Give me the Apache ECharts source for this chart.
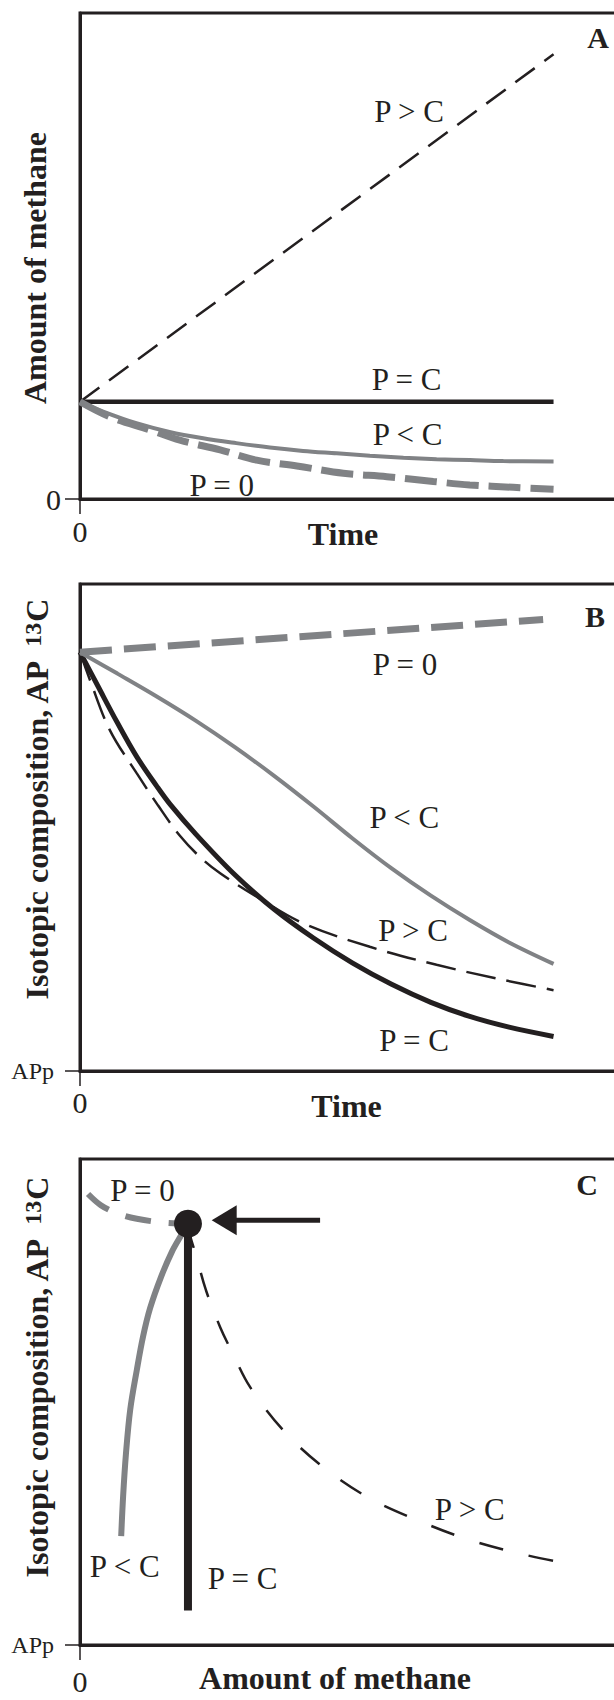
<!DOCTYPE html>
<html>
<head>
<meta charset="utf-8">
<script src="https://cdn.jsdelivr.net/npm/echarts@6/dist/echarts.min.js"></script>
<style>
html,body{margin:0;padding:0;background:#ffffff;}
#chart{width:614px;height:1700px;}
</style>
</head>
<body>
<div id="chart"></div>
<script>
// ---------- DATA (x = time / amount units 0–100, y = 0–100) ----------
// Panel A: amount of methane vs time
const aGreater = [[0,20],[100,91.5]];
const aEqual   = [[0,20],[100,20]];
const aLess    = [[0,20],[4.9,18.0],[11.9,15.6],[18.9,13.8],[26,12.5],[33,11.5],[40.1,10.6],[47.1,9.9],[54.2,9.4],[61.2,8.9],[68.3,8.5],[75.3,8.2],[82.4,8.0],[89.4,7.8],[100,7.7]];
const aZero    = [[0,20],[6.3,16.9],[14.8,14.2],[21.1,12.1],[29.6,10.1],[37.3,8.0],[45.8,6.8],[55.6,5.3],[64.8,4.6],[74.6,3.6],[82.3,2.9],[91.5,2.4],[100,2.0]];

// Panel B: isotopic composition vs time
const bZero    = [[0,86],[97.8,92.7]];
const bLess    = [[0,86],[7.9,81.6],[16.2,76.9],[24.5,71.9],[32.7,66.5],[41,60.6],[49.3,54.3],[57.5,47.8],[65.8,41.6],[74.1,36.0],[82.3,31.0],[90.6,26.4],[100,22.0]];
const bEqual   = [[0,86],[3.8,79.0],[7.9,71.5],[12,64.5],[16.2,58.5],[19,54.8],[24.5,48.6],[32.7,40.3],[41,33.2],[49.3,27.3],[57.5,22.2],[65.8,17.8],[74.1,14.1],[82.3,11.2],[90.6,9.0],[100,7.1]];
const bGreater = [[0,86],[2.1,80.3],[6.3,70.0],[12,61.1],[16.5,54.5],[21.1,48.3],[25.5,43.8],[29.6,40.6],[37.3,35.8],[47.2,30.3],[61.2,25.5],[75.3,21.8],[89.4,18.7],[100,16.6]];

// Panel C: isotopic composition vs amount of methane
const cZero    = [[1.7,92.8],[4.4,90.5],[7.9,88.8],[12.0,87.7],[17.8,86.9],[22.8,86.7]];
const cLess    = [[22.8,86.7],[21.3,84.2],[19.4,80.9],[17.1,75.7],[14.8,69.3],[13.3,63.4],[12.0,56.6],[10.6,48.4],[9.7,39.3],[9.1,30.5],[8.7,22.4]];
const cEqual   = [[22.8,86.7],[22.8,7.1]];
const cGreater = [[22.8,86.7],[23.2,84.4],[24.5,80.2],[26.6,73.0],[29.6,65.4],[32.1,60.3],[35.9,53.1],[42.9,44.2],[51.1,36.8],[60.6,30.5],[71.2,25.7],[81.7,21.8],[92.5,18.9],[102.0,16.9]];
const cStart   = [[22.8,86.7]];
const cArrowShaft = [[50.7,87.4],[31.5,87.4]];
const cArrowHead  = [[30.45,87.4]];

// tick labels
const xTickLabels  = ['0'];
const yTickLabelsA = ['0'];
const yTickLabelsBC = ['APp'];

// ---------- STYLE ----------
const FONT = 'Liberation Serif, Times New Roman, serif';
const INK = '#231f20';
const GREY = '#808285';

const gridBase = {show:true, borderColor:INK, borderWidth:3, backgroundColor:'transparent', left:80, width:537,
  containLabel:false, outerBoundsMode:'none'};
const grids = [
  Object.assign({}, gridBase, {top:13, height:486}),
  Object.assign({}, gridBase, {top:584, height:487}),
  Object.assign({}, gridBase, {top:1159, height:486})
];

function xAx(i, name, nameGap, padRight, labelMargin) {
  return {
    type:'value', gridIndex:i, min:0, max:113.4,
    name:name, nameLocation:'middle', nameGap:nameGap, nameMoveOverlap:false,
    nameTextStyle:{fontFamily:FONT, fontWeight:'bold', fontSize:32, color:INK, padding:[0,padRight,0,0]},
    axisLine:{show:true, onZero:false, lineStyle:{color:INK, width:3}},
    axisTick:{show:true, customValues:[0], length:15, lineStyle:{color:INK, width:1.5}},
    axisLabel:{show:true, customValues:[0], formatter:function(){return xTickLabels[0];}, margin:labelMargin,
      fontFamily:FONT, fontSize:30, color:INK},
    splitLine:{show:false}
  };
}
function yAx(i, labels, size, margin) {
  return {
    type:'value', gridIndex:i, min:0, max:100,
    axisLine:{show:true, onZero:false, lineStyle:{color:INK, width:3}},
    axisTick:{show:true, customValues:[0], length:15, lineStyle:{color:INK, width:1.5}},
    axisLabel:{show:true, customValues:[0], formatter:function(){return labels[0];}, margin:margin,
      fontFamily:FONT, fontSize:size, color:INK, padding:[6,0,0,0]},
    splitLine:{show:false}
  };
}

function line(i, data, color, width, dash, z, smooth) {
  return {
    type:'line', xAxisIndex:i, yAxisIndex:i, data:data, smooth:(smooth===undefined?0.35:smooth),
    symbol:'none', silent:true, animation:false, clip:false, z:z||2,
    lineStyle:{color:color, width:width, type:dash||'solid', cap:'butt'}
  };
}

function txt(x, y, t, size, bold) {
  return {type:'text', x:x, y:y, silent:true, z:100,
    style:{text:t, fill:INK, fontFamily:FONT, fontSize:size||31, fontWeight:bold?'bold':'normal',
      align:'center', verticalAlign:'middle', textAlign:'center', textVerticalAlign:'middle'}};
}
function yName(x, y, t) {
  return {type:'text', x:x, y:y, rotation:Math.PI/2, silent:true, z:100,
    style:{text:t, fill:INK, fontFamily:FONT, fontSize:32, fontWeight:'bold',
      align:'center', verticalAlign:'middle', textAlign:'center', textVerticalAlign:'middle',
      rich:{sup:{fontFamily:FONT, fontSize:24, fontWeight:'bold', fill:INK, lineHeight:12, verticalAlign:'top',
        padding:[0,1,0,6]}}}};
}

const option = {
  backgroundColor:'#ffffff',
  animation:false,
  grid:grids,
  xAxis:[xAx(0,'Time',19,11,17), xAx(1,'Time',19,4,16), xAx(2,'Amount of methane',17,27,21)],
  yAxis:[yAx(0,yTickLabelsA,30,19), yAx(1,yTickLabelsBC,24,26), yAx(2,yTickLabelsBC,24,26)],
  series:[
    // A
    line(0, aGreater, INK, 2.5, [24,12], 3, false),
    line(0, aEqual, INK, 4.5, 'solid', 3, false),
    line(0, aLess, GREY, 4, 'solid', 4),
    line(0, aZero, GREY, 7, [32,10], 4),
    // B
    line(1, bZero, GREY, 7, [32,12], 4, false),
    line(1, bLess, GREY, 4, 'solid', 4),
    line(1, bEqual, INK, 5, 'solid', 3),
    line(1, bGreater, INK, 2.5, [30,11], 3),
    // C
    line(2, cZero, GREY, 6, [26,18], 4),
    line(2, cLess, GREY, 6, 'solid', 4),
    line(2, cEqual, INK, 8, 'solid', 5, false),
    line(2, cGreater, INK, 2.5, [25,26], 3),
    {type:'scatter', xAxisIndex:2, yAxisIndex:2, data:cStart, symbol:'circle', symbolSize:28,
      itemStyle:{color:INK, opacity:1}, silent:true, z:6, animation:false},
    line(2, cArrowShaft, INK, 5, 'solid', 6, false),
    {type:'scatter', xAxisIndex:2, yAxisIndex:2, data:cArrowHead, symbol:'triangle', symbolSize:[30,25],
      symbolRotate:90, itemStyle:{color:INK, opacity:1}, silent:true, z:6, animation:false}
  ],
  graphic:[
    txt(598, 37, 'A', 30, true),
    txt(409, 111.6, 'P > C'),
    txt(406.5, 379.5, 'P = C'),
    txt(407.5, 434, 'P < C'),
    txt(221.7, 485, 'P = 0'),
    yName(35, 268, 'Amount of methane'),

    txt(595, 616, 'B', 30, true),
    txt(405, 664.7, 'P = 0'),
    txt(404.3, 817.5, 'P < C'),
    txt(413, 930.8, 'P > C'),
    txt(414, 1040.8, 'P = C'),
    yName(37, 800, 'Isotopic composition, AP {sup|13}C'),

    txt(587, 1184.6, 'C', 30, true),
    txt(142.5, 1190, 'P = 0'),
    txt(469.7, 1509, 'P > C'),
    txt(242.5, 1578, 'P = C'),
    txt(124.7, 1566.8, 'P < C'),
    yName(37, 1378, 'Isotopic composition, AP {sup|13}C')
  ]
};

const chart = echarts.init(document.getElementById('chart'), null, {renderer:'svg', width:614, height:1700});
chart.setOption(option);
</script>
</body>
</html>
